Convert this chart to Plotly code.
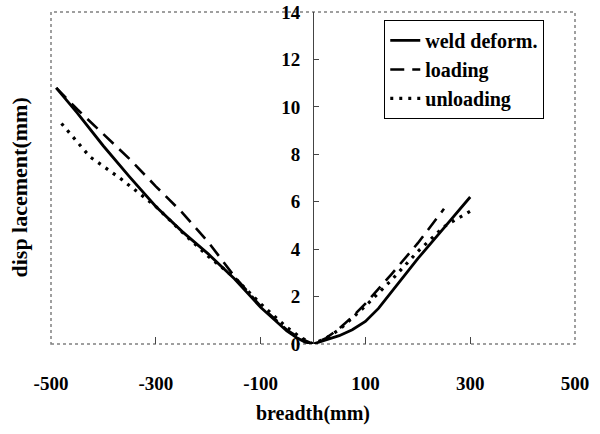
import plotly.graph_objects as go

# ---- data ----
weld_x = [-490, -450, -400, -350, -300, -250, -200, -150, -100, -75, -50, -30, -15, 0,
          15, 30, 50, 75, 100, 125, 150, 200, 250, 300]
weld_y = [10.8, 9.75, 8.35, 7.05, 5.8, 4.75, 3.8, 2.75, 1.55, 1.05, 0.55, 0.25, 0.08, 0.0,
          0.1, 0.2, 0.35, 0.6, 0.95, 1.5, 2.2, 3.6, 4.9, 6.2]

load_x = [-490, -450, -400, -350, -300, -250, -200, -170, -150, -100, -50, -25, 0,
          25, 50, 75, 100, 150, 200, 250]
load_y = [10.8, 9.9, 8.85, 7.8, 6.65, 5.55, 4.3, 3.45, 2.85, 1.6, 0.6, 0.25, 0.0,
          0.25, 0.65, 1.15, 1.7, 2.95, 4.25, 5.7]

unload_x = [-480, -426, -368, -300, -241, -200, -150, -100, -50, -25, 0,
            25, 50, 75, 100, 150, 200, 250, 300]
unload_y = [9.3, 7.9, 6.99, 5.8, 4.53, 3.7, 2.8, 1.7, 0.7, 0.3, 0.0,
            0.25, 0.6, 1.1, 1.6, 2.7, 3.9, 4.95, 5.6]

x_ticks = [-500, -300, -100, 100, 300, 500]
y_ticks = [0, 2, 4, 6, 8, 10, 12, 14]

series_names = ["weld deform.", "loading", "unloading"]

FONT = "Liberation Serif"


def bfont(size):
    return dict(family=FONT, size=size, color="black", weight="bold")


fig = go.Figure()
fig.add_trace(go.Scatter(x=weld_x, y=weld_y, mode="lines", name=series_names[0],
                         line=dict(color="black", width=2.8)))
fig.add_trace(go.Scatter(x=load_x, y=load_y, mode="lines", name=series_names[1],
                         line=dict(color="black", width=2.6, dash="14px,8px")))
fig.add_trace(go.Scatter(x=unload_x, y=unload_y, mode="lines", name=series_names[2],
                         line=dict(color="black", width=3.2, dash="3px,6px")))

fig.add_shape(type="rect", xref="paper", yref="paper", x0=0, y0=0, x1=1, y1=1,
              line=dict(color="#808080", width=1.5, dash="dot"), layer="below")

fig.update_layout(
    width=600, height=434,
    margin=dict(l=51, r=25, t=12, b=90, autoexpand=False),
    paper_bgcolor="white", plot_bgcolor="white",
    font=bfont(19),
    showlegend=True,
    legend=dict(x=0.636, y=0.976, xanchor="left", yanchor="top",
                bordercolor="black", borderwidth=1, bgcolor="white",
                tracegroupgap=0, font=bfont(20)),
    xaxis=dict(range=[-500, 500], tickvals=x_ticks, ticktext=[str(v) for v in x_ticks],
               ticks="inside", ticklen=7, tickcolor="#444", showgrid=False, zeroline=False,
               showline=False, ticklabelstandoff=26, automargin=False, tickfont=bfont(19),
               ticklabeloverflow="allow",
               title=dict(text="breadth(mm)", standoff=12, font=bfont(20))),
    yaxis=dict(range=[0, 14], tickvals=y_ticks, ticks="inside", ticklen=5, tickcolor="#444",
               showgrid=False, zeroline=False, showline=True, linecolor="#444", linewidth=1,
               anchor="free", position=0.5, ticklabelstandoff=9, automargin=False,
               ticklabeloverflow="allow", tickfont=bfont(19)),
    annotations=[dict(text="disp lacement(mm)", xref="paper", yref="paper",
                      x=-0.06, y=0.47, showarrow=False, textangle=-90,
                      xanchor="center", yanchor="middle", font=bfont(22))],
)

# remove the default 8px page margin so the 600x434 figure fills the window
fig.write_html("out.html", config={"displayModeBar": False},
               post_script="document.body.style.margin='0px';")
